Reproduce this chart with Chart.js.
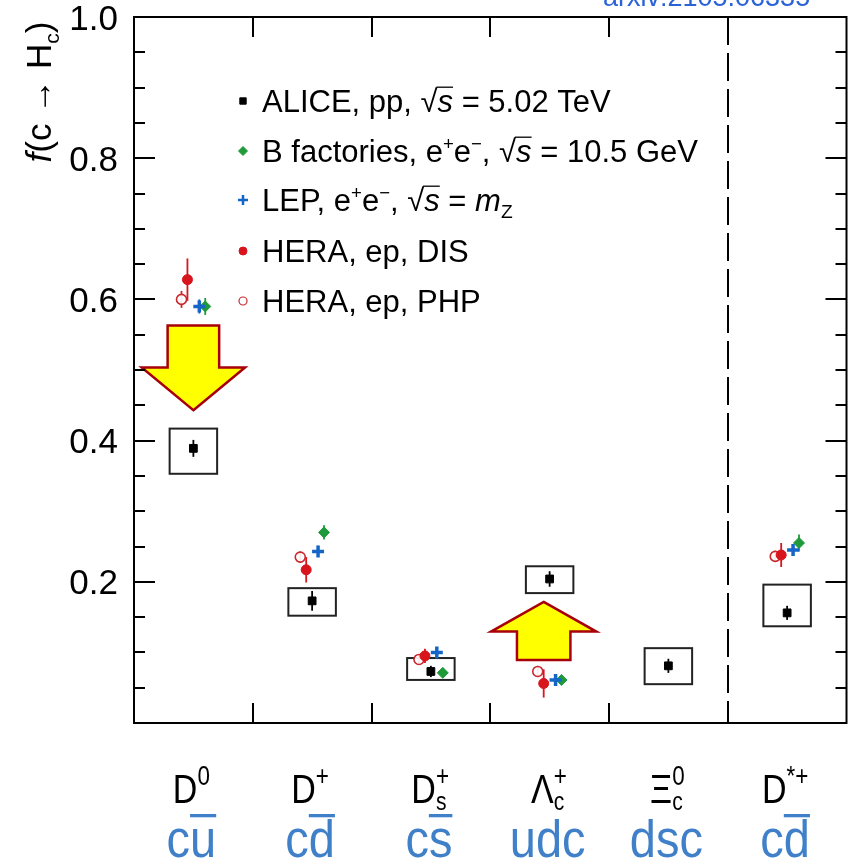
<!DOCTYPE html>
<html><head><meta charset="utf-8">
<script src="https://cdn.jsdelivr.net/npm/chart.js@4"></script>
<style>html,body{margin:0;padding:0;background:#fff}#wrap{width:856px;height:865px;position:relative}</style>
</head><body><div id="wrap"><canvas id="c" width="856" height="865"></canvas></div>
<script>
// ---------------- data ----------------
const categories = ['D0', 'D+', 'Ds+', 'Λc+', 'Ξc0', 'D*+'];
const quarkContent = ['cu', 'cd', 'cs', 'udc', 'dsc', 'cd'];
const quarkBarIndex = [1, 1, 1, -1, -1, 1];

const aliceValues   = [0.389, 0.173, 0.073, 0.204, 0.081, 0.156];
const aliceStatErr  = [0.012, 0.014, 0.008, 0.011, 0.010, 0.010];
const aliceSysLow   = [0.353, 0.152, 0.061, 0.184, 0.055, 0.137];
const aliceSysHigh  = [0.417, 0.191, 0.092, 0.222, 0.106, 0.196];

const bFactValues   = [0.590, 0.270, 0.071, 0.061, null, 0.255];
const bFactErr      = [0.012, 0.010, 0.006, 0.006, null, 0.012];
const lepValues     = [0.590, 0.243, 0.100, 0.061, null, 0.245];
const lepErr        = [0.010, 0.008, 0.006, 0.005, null, 0.008];
const heraDisValues = [0.628, 0.217, 0.095, 0.056, null, 0.238];
const heraDisErr    = [0.030, 0.018, 0.010, 0.020, null, 0.017];
const heraPhpValues = [0.600, 0.235, 0.090, 0.073, null, 0.236];
const heraPhpErr    = [0.012, 0.008, 0.007, 0.008, null, 0.008];

const yMajorTicks = [0, 0.2, 0.4, 0.6, 0.8, 1.0];
const yTickLabels = ['', '0.2', '0.4', '0.6', '0.8', '1.0'];
const yMinorTicks = [0.05,0.1,0.15,0.25,0.3,0.35,0.45,0.5,0.55,0.65,0.7,0.75,0.85,0.9,0.95];

// ---------------- style ----------------
const FONT = "'Liberation Sans', Arial, Helvetica, sans-serif";
const COL = {alice:'#000000', bfact:'#1f9a3a', lep:'#1565c8', dis:'#d8141c', php:'#c8282e'};
const XOFF = {alice:0, bfact:0.1, lep:0.05, dis:-0.05, php:-0.1};
const SYS_HALF = 0.2;

function pts(vals, errs, off) {
  const out = [];
  vals.forEach((v, i) => { if (v !== null) out.push({x: i + 0.5 + off, y: v, err: errs[i]}); });
  return out;
}

function fontOf(r, base) {
  const size = (r.size || 1) * base;
  return (r.italic ? 'italic ' : '') + size + 'px ' + FONT;
}
function measureRuns(ctx, runs, base) {
  let total = 0;
  runs.forEach(r => { ctx.font = fontOf(r, base); r._w = ctx.measureText(r.t).width; if (!r.stack) total += r._w; });
  return total;
}
function drawRuns(ctx, x, y, runs, base, color, align) {
  const total = measureRuns(ctx, runs, base);
  let cx = align === 'center' ? x - total / 2 : x;
  runs.forEach(r => {
    ctx.font = fontOf(r, base);
    ctx.fillStyle = r.color || color;
    const yy = y + (r.dy || 0) * base;
    ctx.fillText(r.t, cx, yy);
    if (r.over !== undefined) {
      ctx.strokeStyle = r.color || color;
      ctx.lineWidth = r.overW || Math.max(1.5, base * 0.06);
      ctx.beginPath();
      ctx.moveTo(cx + (r.overL || 0) * base, yy - r.over * base);
      ctx.lineTo(cx + r._w, yy - r.over * base);
      ctx.stroke();
    }
    if (!r.stack) cx += r._w;
  });
}

const particleRuns = {
  'D0':  [{t:'D'}, {t:'0', size:0.66, dy:-0.44}],
  'D+':  [{t:'D'}, {t:'+', size:0.66, dy:-0.44}],
  'Ds+': [{t:'D'}, {t:'+', size:0.66, dy:-0.44, stack:true}, {t:'s', size:0.62, dy:0.18}],
  'Λc+': [{t:'Λ'}, {t:'+', size:0.66, dy:-0.44, stack:true}, {t:'c', size:0.62, dy:0.18}],
  'Ξc0': [{t:'Ξ'}, {t:'0', size:0.66, dy:-0.44, stack:true}, {t:'c', size:0.62, dy:0.18}],
  'D*+': [{t:'D'}, {t:'*+', size:0.66, dy:-0.44}]
};

const sqrtS = () => [{t:'√'}, {t:'s', italic:true, over:0.8, overL:-0.04, overW:1.3}];
const legendItems = [
  {style:{pointStyle:'rect', radius:4.5}, color:COL.alice, fill:COL.alice,
   runs:[{t:'ALICE, pp, '}, ...sqrtS(), {t:' = 5.02 TeV'}]},
  {style:{pointStyle:'rectRot', radius:4.5}, color:COL.bfact, fill:COL.bfact,
   runs:[{t:'B factories, e'}, {t:'+', size:0.6, dy:-0.4}, {t:'e'}, {t:'−', size:0.6, dy:-0.4}, {t:', '}, ...sqrtS(), {t:' = 10.5 GeV'}]},
  {style:{pointStyle:'cross', radius:5, borderWidth:2.5}, color:COL.lep, fill:COL.lep,
   runs:[{t:'LEP, e'}, {t:'+', size:0.6, dy:-0.4}, {t:'e'}, {t:'−', size:0.6, dy:-0.4}, {t:', '}, ...sqrtS(), {t:' = '}, {t:'m', italic:true}, {t:'Z', size:0.62, dy:0.22}]},
  {style:{pointStyle:'circle', radius:4}, color:COL.dis, fill:COL.dis, runs:[{t:'HERA, ep, DIS'}]},
  {style:{pointStyle:'circle', radius:4, borderWidth:1.2}, color:COL.php, fill:'#ffffff', runs:[{t:'HERA, ep, PHP'}]}
];

function drawArrow(ctx, xs, ys, cx, tipY, baseY, endY, headHalf, shaftHalf) {
  const X = v => xs.getPixelForValue(v), Y = v => ys.getPixelForValue(v);
  ctx.beginPath();
  ctx.moveTo(X(cx), Y(tipY));
  ctx.lineTo(X(cx + headHalf), Y(baseY));
  ctx.lineTo(X(cx + shaftHalf), Y(baseY));
  ctx.lineTo(X(cx + shaftHalf), Y(endY));
  ctx.lineTo(X(cx - shaftHalf), Y(endY));
  ctx.lineTo(X(cx - shaftHalf), Y(baseY));
  ctx.lineTo(X(cx - headHalf), Y(baseY));
  ctx.closePath();
  ctx.fillStyle = '#ffff00';
  ctx.fill();
  ctx.strokeStyle = '#a8000a';
  ctx.lineWidth = 2.5;
  ctx.lineJoin = 'miter';
  ctx.stroke();
}

const decor = {
  id: 'decor',
  beforeDatasetsDraw(chart) {
    const {ctx, scales:{x: xs, y: ys}} = chart;
    ctx.save();
    // ALICE systematic boxes
    ctx.strokeStyle = '#222';
    ctx.lineWidth = 2;
    aliceValues.forEach((v, i) => {
      const x0 = xs.getPixelForValue(i + 0.5 - SYS_HALF), x1 = xs.getPixelForValue(i + 0.5 + SYS_HALF);
      const y0 = ys.getPixelForValue(aliceSysHigh[i]), y1 = ys.getPixelForValue(aliceSysLow[i]);
      ctx.strokeRect(x0, y0, x1 - x0, y1 - y0);
    });
    // error bars
    chart.data.datasets.forEach(ds => {
      ctx.strokeStyle = ds.borderColor;
      ctx.lineWidth = 1.8;
      ds.data.forEach(p => {
        if (!p.err) return;
        const px = xs.getPixelForValue(p.x);
        ctx.beginPath();
        ctx.moveTo(px, ys.getPixelForValue(p.y - p.err));
        ctx.lineTo(px, ys.getPixelForValue(p.y + p.err));
        ctx.stroke();
      });
    });
    // annotation arrows
    drawArrow(ctx, xs, ys, 0.5, 0.443, 0.5035, 0.563, 0.435, 0.217);
    drawArrow(ctx, xs, ys, 3.45, 0.1716, 0.1295, 0.0894, 0.443, 0.225);
    ctx.restore();
  },
  afterDraw(chart) {
    const {ctx, chartArea: a, scales:{x: xs, y: ys}} = chart;
    ctx.save();
    // frame
    ctx.strokeStyle = '#000';
    ctx.lineWidth = 2;
    ctx.setLineDash([]);
    ctx.strokeRect(a.left, a.top, a.right - a.left, a.bottom - a.top);
    // y ticks
    const tick = (v, len) => {
      const py = Math.round(ys.getPixelForValue(v));
      ctx.beginPath();
      ctx.moveTo(a.left, py); ctx.lineTo(a.left + len, py);
      ctx.moveTo(a.right, py); ctx.lineTo(a.right - len, py);
      ctx.stroke();
    };
    yMajorTicks.forEach(v => tick(v, 21));
    yMinorTicks.forEach(v => tick(v, 11));
    // x ticks at category boundaries
    for (let b = 1; b < categories.length - 1; b++) {
      const px = Math.round(xs.getPixelForValue(b));
      ctx.beginPath();
      ctx.moveTo(px, a.bottom); ctx.lineTo(px, a.bottom - 20);
      ctx.moveTo(px, a.top); ctx.lineTo(px, a.top + 20);
      ctx.stroke();
    }
    // dashed separator before D*+
    const dx = Math.round(xs.getPixelForValue(categories.length - 1));
    ctx.setLineDash([28, 8]);
    ctx.beginPath();
    ctx.moveTo(dx, a.top); ctx.lineTo(dx, a.bottom);
    ctx.stroke();
    ctx.setLineDash([]);
    // y tick labels
    ctx.fillStyle = '#000';
    ctx.font = '35px ' + FONT;
    ctx.textAlign = 'right';
    ctx.textBaseline = 'middle';
    yMajorTicks.forEach((v, i) => {
      if (yTickLabels[i]) ctx.fillText(yTickLabels[i], 118, ys.getPixelForValue(v) + 3);
    });
    ctx.textAlign = 'left';
    ctx.textBaseline = 'alphabetic';
    // y title
    ctx.save();
    ctx.translate(39, 92);
    ctx.rotate(-Math.PI / 2);
    drawRuns(ctx, 0, 12, [{t:'f', italic:true}, {t:'(c '}, {t:'→'}, {t:' H'}, {t:'c', size:0.6, dy:0.22}, {t:')'}], 35, '#000', 'center');
    ctx.restore();
    // x category labels
    categories.forEach((c, i) => {
      const px = xs.getPixelForValue(i + 0.5);
      ctx.save();
      ctx.translate(px - 2, 803);
      ctx.scale(1, 1.2);
      drawRuns(ctx, 0, 0, particleRuns[c].map(r => ({...r})), 34, '#000', 'center');
      ctx.restore();
      // quark content
      const q = quarkContent[i];
      const runs = q.split('').map((ch, k) => (k === quarkBarIndex[i] ? {t:ch, over:0.8, overW:3} : {t:ch}));
      ctx.save();
      ctx.translate(px - 2, 857);
      ctx.scale(1, 1.1);
      drawRuns(ctx, 0, 0, runs, 47, '#3f80c9', 'center');
      ctx.restore();
    });
    // legend
    const baselines = [112, 162, 211, 262, 312];
    legendItems.forEach((it, k) => {
      ctx.fillStyle = it.fill;
      ctx.strokeStyle = it.color;
      ctx.lineWidth = it.style.borderWidth || 1;
      Chart.helpers.drawPoint(ctx, {pointStyle: it.style.pointStyle, radius: it.style.radius, rotation: 0, borderWidth: it.style.borderWidth || 1}, 243, baselines[k] - 11);
      drawRuns(ctx, 262, baselines[k], it.runs.map(r => ({...r})), 31, '#000', 'left');
    });
    // source note
    ctx.fillStyle = '#2a62d8';
    ctx.font = '27px ' + FONT;
    ctx.fillText('arxiv:2105.06335', 603, 6);
    ctx.restore();
  }
};

new Chart(document.getElementById('c'), {
  type: 'scatter',
  data: {
    datasets: [
      {label:'ALICE, pp, √s = 5.02 TeV', data: pts(aliceValues, aliceStatErr, XOFF.alice),
       pointStyle:'rect', pointRadius:5.5, backgroundColor:COL.alice, borderColor:COL.alice, borderWidth:1},
      {label:'HERA, ep, DIS', data: pts(heraDisValues, heraDisErr, XOFF.dis),
       pointStyle:'circle', pointRadius:5, backgroundColor:COL.dis, borderColor:COL.dis, borderWidth:1},
      {label:'HERA, ep, PHP', data: pts(heraPhpValues, heraPhpErr, XOFF.php),
       pointStyle:'circle', pointRadius:5, backgroundColor:'rgba(255,255,255,0.9)', borderColor:COL.php, borderWidth:1.6},
      {label:'LEP, e+e−, √s = mZ', data: pts(lepValues, lepErr, XOFF.lep),
       pointStyle:'cross', pointRadius:6, backgroundColor:COL.lep, borderColor:COL.lep, borderWidth:3.5},
      {label:'B factories, e+e−, √s = 10.5 GeV', data: pts(bFactValues, bFactErr, XOFF.bfact),
       pointStyle:'rectRot', pointRadius:5.5, backgroundColor:COL.bfact, borderColor:COL.bfact, borderWidth:1}
    ]
  },
  options: {
    responsive: false,
    animation: false,
    devicePixelRatio: 1,
    layout: {padding: {left: 134, right: 6, top: 17, bottom: 142}},
    plugins: {legend: {display: false}, tooltip: {enabled: false}},
    scales: {
      x: {type: 'linear', min: 0, max: categories.length, display: false},
      y: {type: 'linear', min: 0, max: 1.0, display: false}
    }
  },
  plugins: [decor]
});
</script>
</body></html>
